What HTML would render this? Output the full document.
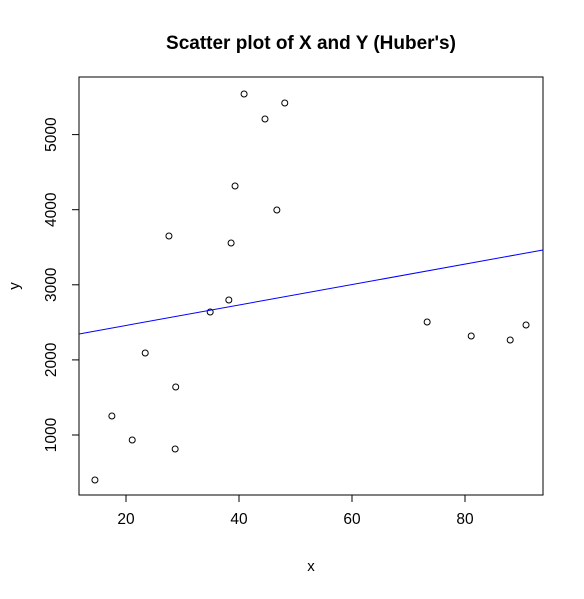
<!DOCTYPE html>
<html><head><meta charset="utf-8"><style>
body{margin:0;background:#fff;}
svg text{font-family:"Liberation Sans",Arial,sans-serif;}
</style></head><body>
<svg id="chart" width="584" height="594" xmlns="http://www.w3.org/2000/svg">
<rect width="584" height="594" fill="#fff"/>
<text x="311" y="49" font-size="19" font-weight="bold" text-anchor="middle">Scatter plot of X and Y (Huber's)</text>
<rect x="79" y="77" width="464" height="418" fill="none" stroke="#000" stroke-width="1"/>
<g id="xaxis"></g>
<g id="yaxis"></g>
<text x="311" y="571" font-size="15" text-anchor="middle">x</text>
<text x="19" y="286" font-size="15" text-anchor="middle" transform="rotate(-90 19 286)">y</text>
<g id="marks"></g>
</svg>
<script>
const xValues=[14.5,17.5,21.1,23.4,27.6,28.7,28.8,34.9,38.2,38.6,39.3,40.9,44.6,46.7,48.1,73.3,81.1,88.0,90.8];
const yValues=[401,1253,933,2092,3650,814,1639,2638,2798,3557,4316,5541,5208,3996,5421,2505,2318,2265,2465];
const xTicks=[20,40,60,80];
const yTicks=[1000,2000,3000,4000,5000];
const fitIntercept=2186;
const fitSlope=13.62;
const xMin=11.7,xMax=93.8;
const NS="http://www.w3.org/2000/svg";
function sx(v){return 13+5.65*v;}
function sy(v){return 435-(v-1000)*0.0751;}
function mk(t,a,p){const e=document.createElementNS(NS,t);for(const k in a)e.setAttribute(k,a[k]);p.appendChild(e);return e;}
const xa=document.getElementById('xaxis'),ya=document.getElementById('yaxis'),m=document.getElementById('marks');
mk('line',{x1:sx(xTicks[0]),x2:sx(xTicks[xTicks.length-1]),y1:495,y2:495,stroke:'#000'},xa);
xTicks.forEach(t=>{
 const l=mk('line',{x1:sx(t),x2:sx(t),y1:495,y2:502,stroke:'#000'},xa);
 
 
 const tx=mk('text',{x:sx(t),y:524,'font-size':15.5,'text-anchor':'middle'},xa);
 tx.textContent=t;
 
 
});
mk('line',{x1:79,x2:79,y1:sy(yTicks[0]),y2:sy(yTicks[yTicks.length-1]),stroke:'#000'},ya);
yTicks.forEach(t=>{
 const l=mk('line',{x1:72,x2:79,y1:sy(t),y2:sy(t),stroke:'#000'},ya);
 
 
 const tx=mk('text',{x:56,y:sy(t),'font-size':15.5,'text-anchor':'middle',transform:`rotate(-90 56 ${sy(t)})`},ya);
 tx.textContent=t;
 
 
});
xValues.forEach((x,i)=>{
 const c=mk('circle',{cx:sx(x),cy:sy(yValues[i]),r:3,fill:'none',stroke:'#000','stroke-width':1},m);
 
 
});
const fl=mk('line',{x1:sx(xMin),y1:sy(fitIntercept+fitSlope*xMin),x2:sx(xMax),y2:sy(fitIntercept+fitSlope*xMax),stroke:'#0000ff','stroke-width':1},m);


</script>
</body></html>
